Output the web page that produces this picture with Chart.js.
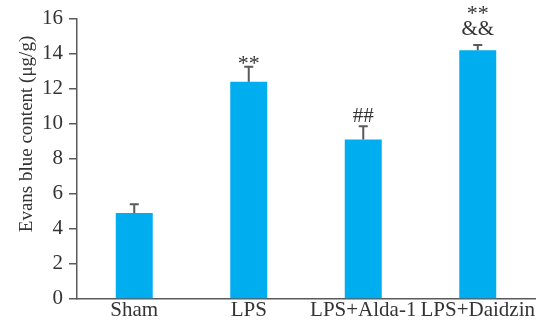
<!DOCTYPE html>
<html>
<head>
<meta charset="utf-8">
<script src="https://cdn.jsdelivr.net/npm/chart.js@4/dist/chart.umd.min.js"></script>
<style>
html,body{margin:0;padding:0;background:#fff;}
canvas{display:block;}
</style>
</head>
<body>
<canvas id="c" width="552" height="322"></canvas>
<script>
const categories = ["Sham", "LPS", "LPS+Alda-1", "LPS+Daidzin"];
const means = [4.9, 12.4, 9.1, 14.2];
const errors = [0.5, 0.85, 0.75, 0.3];
const marks = [[], ["**"], ["##"], ["&&", "**"]];
const yTicks = [0, 2, 4, 6, 8, 10, 12, 14, 16];
const yTitle = "Evans blue content (\u03bcg/g)";

const FONT = "'Liberation Serif', 'Times New Roman', serif";
const TEXT = "#333333";
const AXIS = "#5a5a5a";
const BAR = "#00aeef";

const extras = {
  id: "extras",
  afterDatasetsDraw(chart) {
    const ctx = chart.ctx;
    const y = chart.scales.y;
    const meta = chart.getDatasetMeta(0);
    ctx.save();
    // error bars
    ctx.strokeStyle = AXIS;
    ctx.lineWidth = 2;
    meta.data.forEach((bar, i) => {
      const top = y.getPixelForValue(means[i] + errors[i]);
      const base = y.getPixelForValue(means[i]);
      ctx.beginPath();
      ctx.moveTo(bar.x, base);
      ctx.lineTo(bar.x, top);
      ctx.moveTo(bar.x - 4.5, top);
      ctx.lineTo(bar.x + 4.5, top);
      ctx.stroke();
    });
    // significance marks
    ctx.fillStyle = TEXT;
    ctx.textAlign = "center";
    ctx.textBaseline = "alphabetic";
    meta.data.forEach((bar, i) => {
      const top = y.getPixelForValue(means[i] + errors[i]);
      marks[i].forEach((m, k) => {
        const isStar = m === "**";
        ctx.font = (isStar ? "22px " : "21px ") + FONT;
        let off;
        if (k === 0) off = isStar ? 3 : -4;
        else off = -20;
        if (i === 3 && k === 0) off = -10;
        if (i === 3 && k === 1) off = -25;
        ctx.fillText(m, bar.x, top + off);
      });
    });
    // y-axis title
    ctx.font = "19px " + FONT;
    ctx.translate(27, 134);
    ctx.rotate(-Math.PI / 2);
    ctx.textBaseline = "middle";
    ctx.fillText(yTitle, 0, 0);
    ctx.restore();
  }
};

new Chart(document.getElementById("c"), {
  type: "bar",
  data: {
    labels: categories,
    datasets: [{
      data: means,
      backgroundColor: BAR,
      borderWidth: 0,
      barPercentage: 0.323,
      categoryPercentage: 1.0
    }]
  },
  options: {
    responsive: false,
    animation: false,
    devicePixelRatio: 1,
    layout: { padding: { left: 0, right: 17, top: 16, bottom: 0 } },
    plugins: { legend: { display: false }, tooltip: { enabled: false } },
    scales: {
      x: {
        grid: { display: false, drawTicks: false, tickLength: 0 },
        border: { display: true, color: AXIS, width: 1.5 },
        ticks: { color: TEXT, font: { family: FONT, size: 21, lineHeight: 1.1 }, padding: 0, maxRotation: 0, autoSkip: false }
      },
      y: {
        min: 0,
        max: 16,
        afterBuildTicks(scale) { scale.ticks = yTicks.map(v => ({ value: v })); },
        afterFit(scale) { scale.width = 77; },
        grid: { drawOnChartArea: false, drawTicks: true, tickLength: 8, color: AXIS, lineWidth: 1.5 },
        border: { display: true, color: AXIS, width: 1.5 },
        ticks: { color: TEXT, font: { family: FONT, size: 21 }, padding: 6 }
      }
    }
  },
  plugins: [extras]
});
</script>
</body>
</html>
